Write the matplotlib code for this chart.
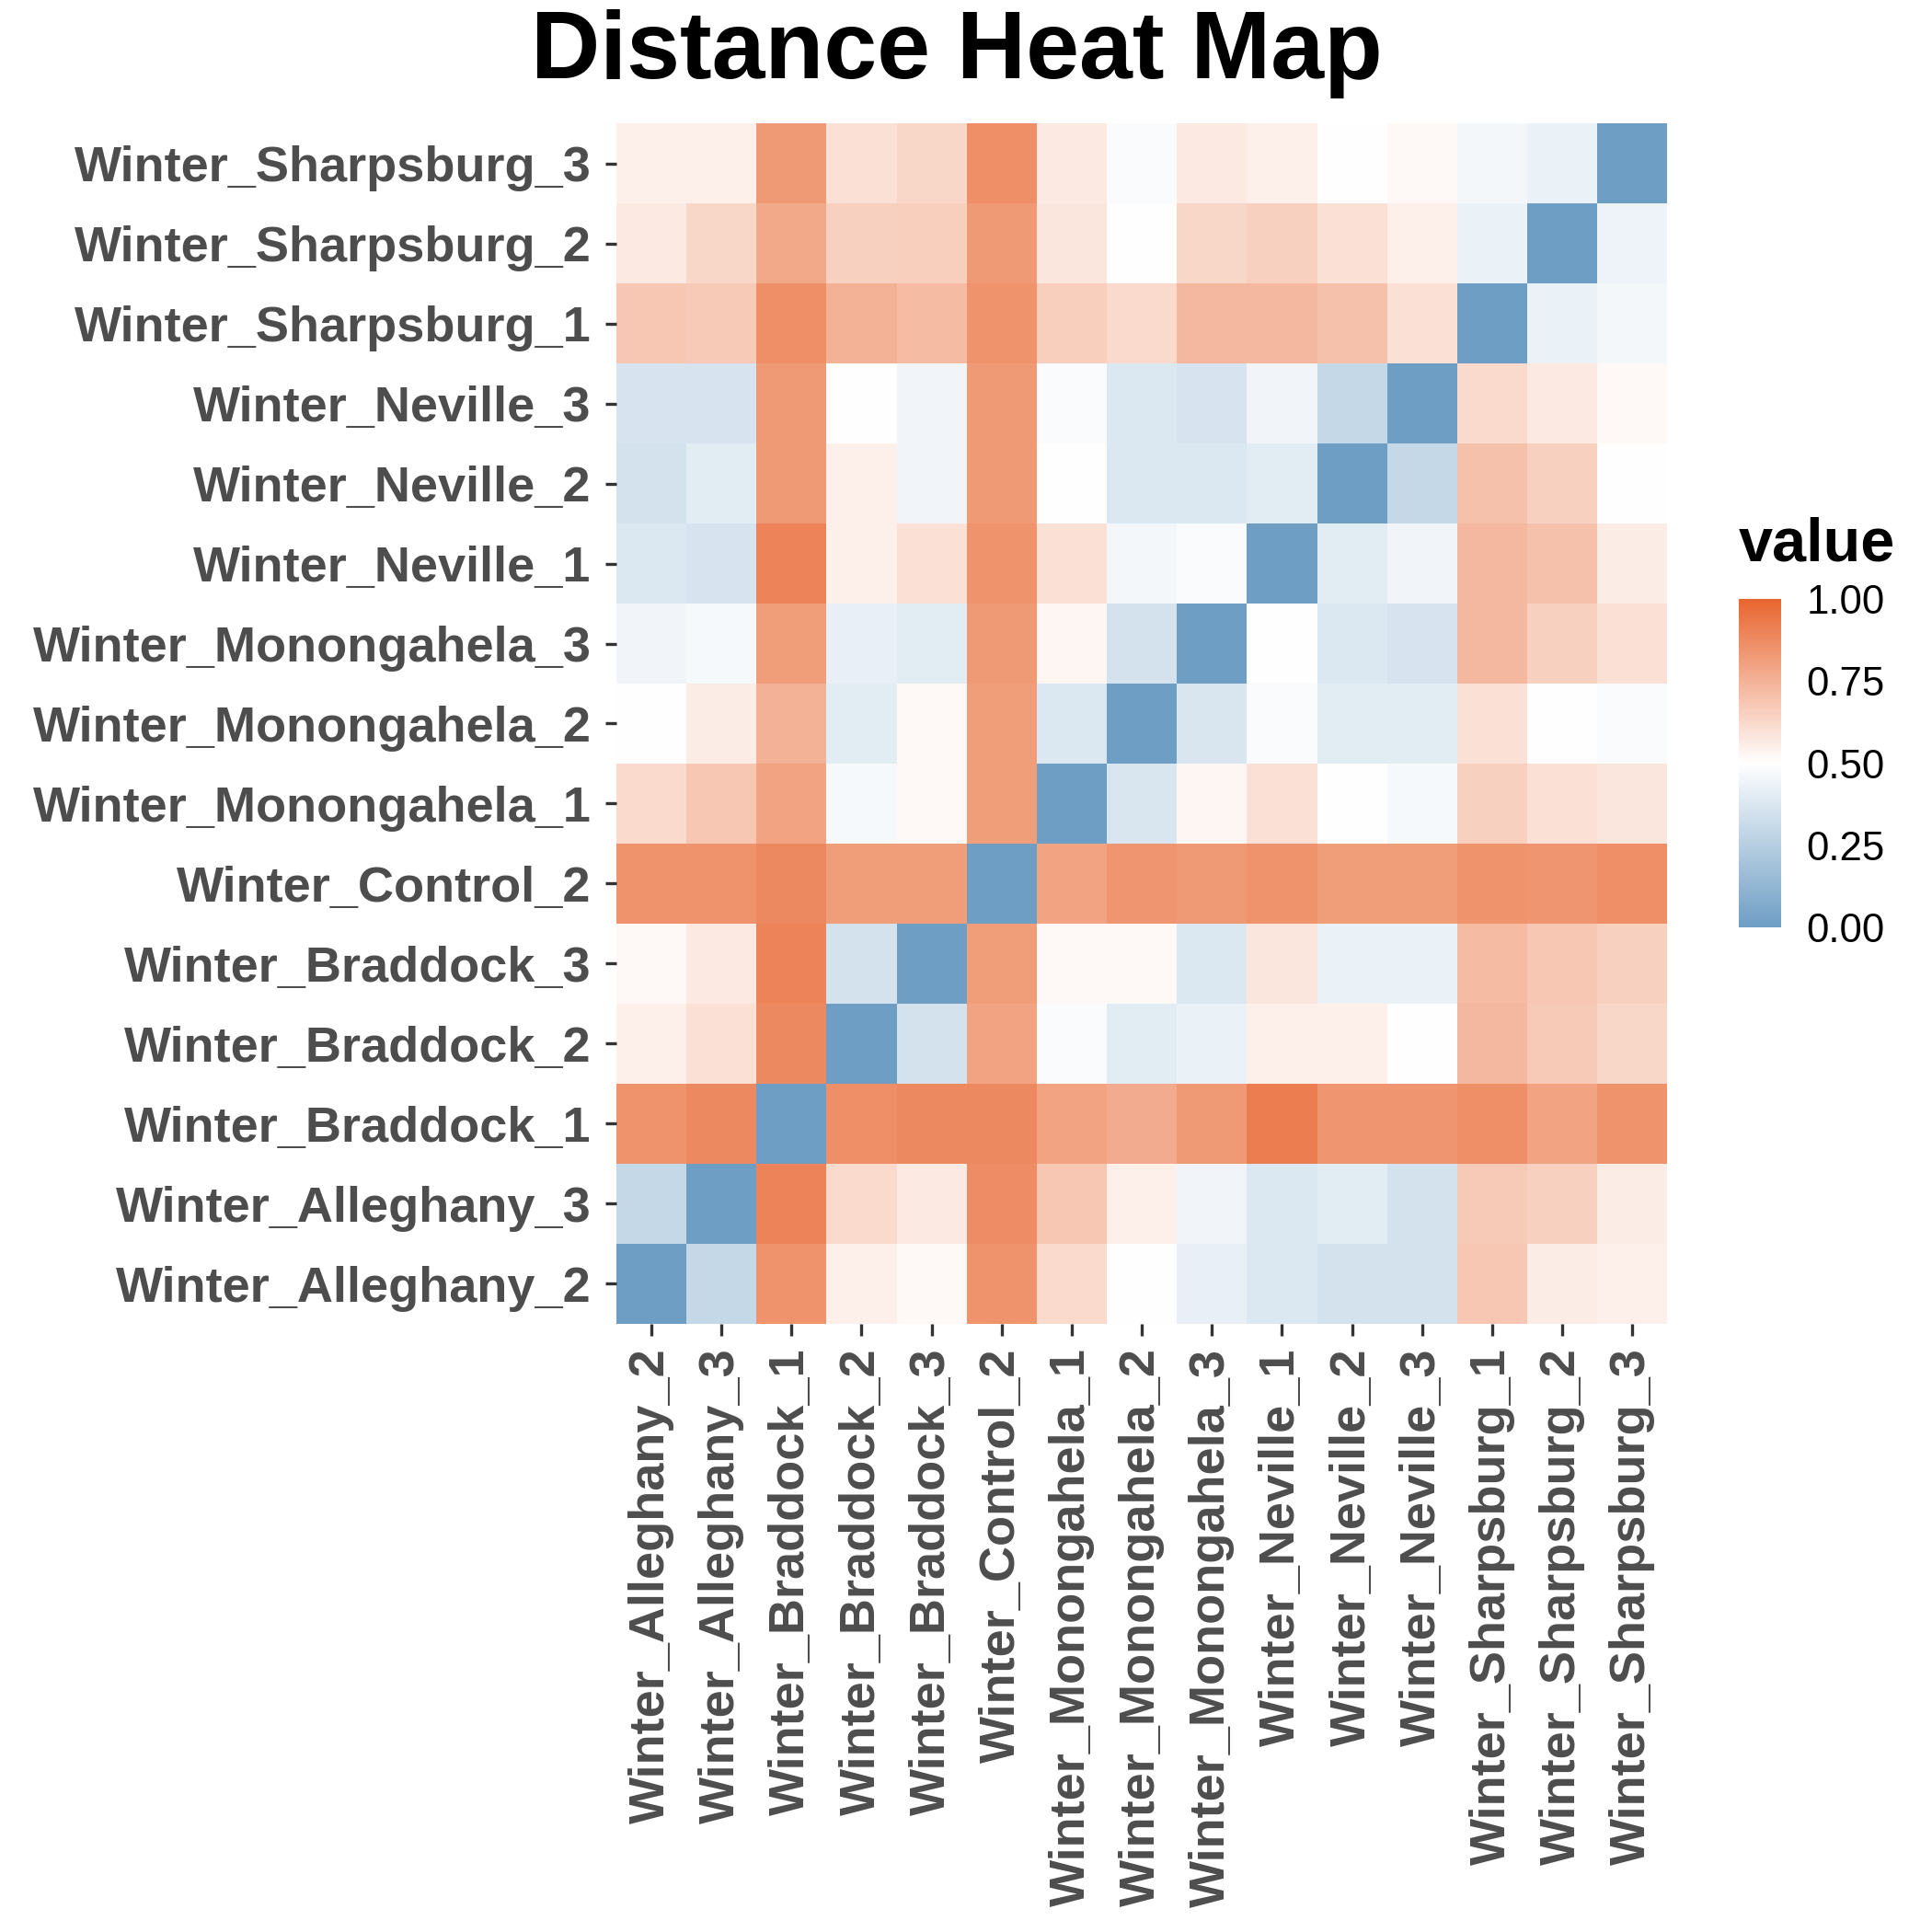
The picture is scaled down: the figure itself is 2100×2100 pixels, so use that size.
import matplotlib
matplotlib.use("Agg")
import matplotlib.pyplot as plt
import numpy as np
from matplotlib.colors import LinearSegmentedColormap

plt.rcParams['font.family'] = ['Liberation Sans', 'DejaVu Sans']

labels = ["Winter_Alleghany_2", "Winter_Alleghany_3", "Winter_Braddock_1", "Winter_Braddock_2",
          "Winter_Braddock_3", "Winter_Control_2", "Winter_Monongahela_1", "Winter_Monongahela_2",
          "Winter_Monongahela_3", "Winter_Neville_1", "Winter_Neville_2", "Winter_Neville_3",
          "Winter_Sharpsburg_1", "Winter_Sharpsburg_2", "Winter_Sharpsburg_3"]

# rows in label order (bottom to top), columns in label order
values = [
    [0.00, 0.30, 0.85, 0.55, 0.52, 0.85, 0.62, 0.50, 0.42, 0.38, 0.35, 0.35, 0.68, 0.56, 0.55],
    [0.30, 0.00, 0.90, 0.62, 0.57, 0.87, 0.68, 0.55, 0.45, 0.38, 0.40, 0.35, 0.67, 0.65, 0.56],
    [0.85, 0.88, 0.00, 0.86, 0.88, 0.88, 0.80, 0.77, 0.83, 0.92, 0.84, 0.84, 0.86, 0.80, 0.85],
    [0.55, 0.60, 0.88, 0.00, 0.35, 0.80, 0.48, 0.40, 0.43, 0.55, 0.55, 0.50, 0.73, 0.67, 0.63],
    [0.52, 0.57, 0.90, 0.35, 0.00, 0.82, 0.52, 0.52, 0.38, 0.58, 0.43, 0.43, 0.72, 0.68, 0.65],
    [0.85, 0.85, 0.88, 0.82, 0.82, 0.00, 0.80, 0.84, 0.83, 0.85, 0.82, 0.82, 0.85, 0.84, 0.86],
    [0.62, 0.68, 0.80, 0.47, 0.52, 0.82, 0.00, 0.37, 0.53, 0.60, 0.50, 0.47, 0.65, 0.60, 0.58],
    [0.50, 0.56, 0.75, 0.40, 0.52, 0.82, 0.38, 0.00, 0.37, 0.48, 0.40, 0.40, 0.60, 0.50, 0.48],
    [0.45, 0.47, 0.82, 0.42, 0.40, 0.83, 0.53, 0.35, 0.00, 0.50, 0.38, 0.36, 0.73, 0.65, 0.60],
    [0.38, 0.36, 0.90, 0.55, 0.60, 0.85, 0.60, 0.46, 0.48, 0.00, 0.40, 0.45, 0.73, 0.70, 0.56],
    [0.35, 0.40, 0.83, 0.55, 0.45, 0.83, 0.50, 0.38, 0.38, 0.40, 0.00, 0.30, 0.70, 0.65, 0.50],
    [0.36, 0.36, 0.83, 0.50, 0.45, 0.83, 0.48, 0.38, 0.36, 0.45, 0.30, 0.00, 0.62, 0.57, 0.52],
    [0.68, 0.67, 0.86, 0.75, 0.72, 0.85, 0.66, 0.62, 0.73, 0.73, 0.70, 0.60, 0.00, 0.43, 0.46],
    [0.57, 0.63, 0.78, 0.65, 0.66, 0.83, 0.58, 0.50, 0.63, 0.65, 0.60, 0.55, 0.43, 0.00, 0.44],
    [0.55, 0.55, 0.83, 0.60, 0.63, 0.86, 0.57, 0.48, 0.57, 0.55, 0.50, 0.52, 0.46, 0.43, 0.00],
]

cmap = LinearSegmentedColormap.from_list("dist", ["#6e9ec4", "#ffffff", "#e8652f"])
gray = "#4d4d4d"

fig = plt.figure(figsize=(7, 7), dpi=300)
ax = fig.add_axes([0.319, 0.315, 0.544, 0.621])
mesh = ax.pcolormesh(np.array(values), cmap=cmap, vmin=0, vmax=1)
n = len(labels)
ax.set_xticks(np.arange(n) + 0.5)
ax.set_yticks(np.arange(n) + 0.5)
ax.set_xticklabels(labels, rotation=90, fontsize=13, fontweight="bold", color=gray)
ax.set_yticklabels(labels, fontsize=13, fontweight="bold", color=gray)
ax.tick_params(length=3, color="#333333")
for s in ax.spines.values():
    s.set_visible(False)

fig.text(0.495, 0.972, "Distance Heat Map", ha="center", va="center", fontsize=25, fontweight="bold")

cax = fig.add_axes([0.9, 0.52, 0.022, 0.17])
cb = fig.colorbar(mesh, cax=cax, ticks=[0, 0.25, 0.5, 0.75, 1.0])
cb.ax.set_yticklabels(["0.00", "0.25", "0.50", "0.75", "1.00"], fontsize=10.5)
cb.outline.set_visible(False)
cb.ax.tick_params(length=3, color="white")
cax.set_title("value", fontsize=16, fontweight="bold", loc="left", pad=10)

fig.savefig("out.png", dpi=300, facecolor="white")
